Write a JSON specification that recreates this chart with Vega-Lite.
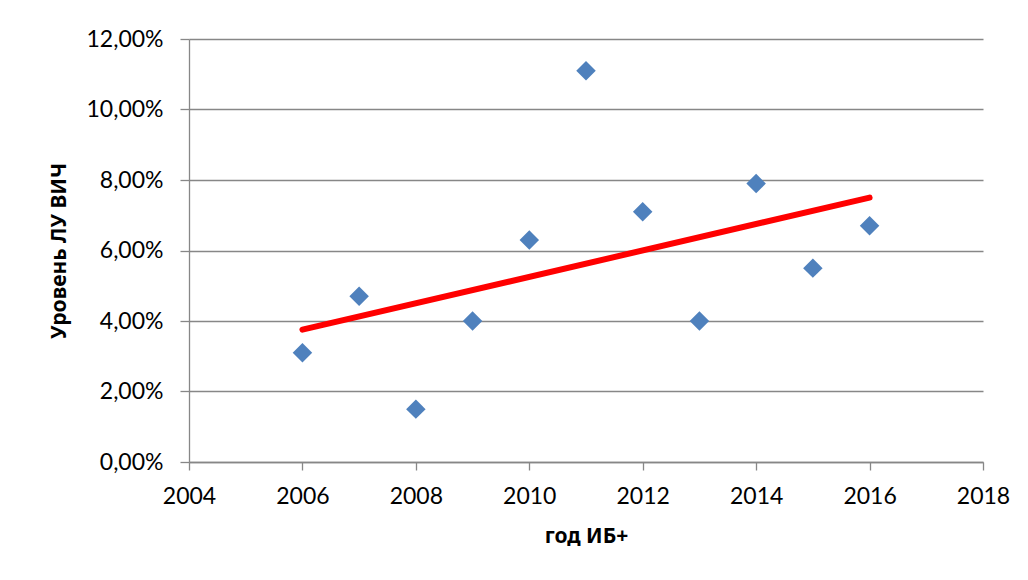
{
  "$schema": "https://vega.github.io/schema/vega-lite/v6.json",
  "autosize": "none",
  "width": 794,
  "height": 423,
  "padding": {"left": 189, "top": 39, "right": 45, "bottom": 118},
  "background": "white",
  "config": {
    "view": {"stroke": null},
    "axis": {
      "labelFont": "Lato, Noto Sans",
      "labelFontSize": 23,
      "labelColor": "#000000",
      "titleFont": "Noto Sans",
      "titleFontWeight": "bold",
      "titleFontSize": 21,
      "titleColor": "#000000",
      "domainColor": "#878787",
      "domainWidth": 1.3,
      "tickColor": "#878787",
      "tickWidth": 1.3,
      "tickSize": 8,
      "gridColor": "#878787",
      "gridWidth": 1.3
    }
  },
  "data": {
    "values": [
      {"year": 2006, "level": 0.031},
      {"year": 2007, "level": 0.047},
      {"year": 2008, "level": 0.015},
      {"year": 2009, "level": 0.040},
      {"year": 2010, "level": 0.063},
      {"year": 2011, "level": 0.111},
      {"year": 2012, "level": 0.071},
      {"year": 2013, "level": 0.040},
      {"year": 2014, "level": 0.079},
      {"year": 2015, "level": 0.055},
      {"year": 2016, "level": 0.067}
    ]
  },
  "encoding": {
    "x": {
      "field": "year",
      "type": "quantitative",
      "scale": {"domain": [2004, 2018], "nice": false, "zero": false},
      "axis": {
        "values": [2004, 2006, 2008, 2010, 2012, 2014, 2016, 2018],
        "format": "d",
        "grid": false,
        "labelPadding": 15,
        "labelFlush": false,
        "title": "год ИБ+",
        "titlePadding": 17
      }
    },
    "y": {
      "field": "level",
      "type": "quantitative",
      "scale": {"domain": [0, 0.12], "nice": false},
      "axis": {
        "values": [0, 0.02, 0.04, 0.06, 0.08, 0.1, 0.12],
        "labelExpr": "replace(format(datum.value, '.2%'), '.', ',')",
        "labelPadding": 17,
        "tickSize": 9,
        "title": "Уровень ЛУ ВИЧ",
        "titlePadding": 16
      }
    }
  },
  "layer": [
    {
      "mark": {"type": "point", "shape": "diamond", "filled": true, "size": 380, "color": "#4F81BD", "opacity": 1}
    },
    {
      "transform": [{"regression": "level", "on": "year"}],
      "mark": {"type": "line", "color": "#FF0000", "strokeWidth": 6, "strokeCap": "round"}
    }
  ]
}
